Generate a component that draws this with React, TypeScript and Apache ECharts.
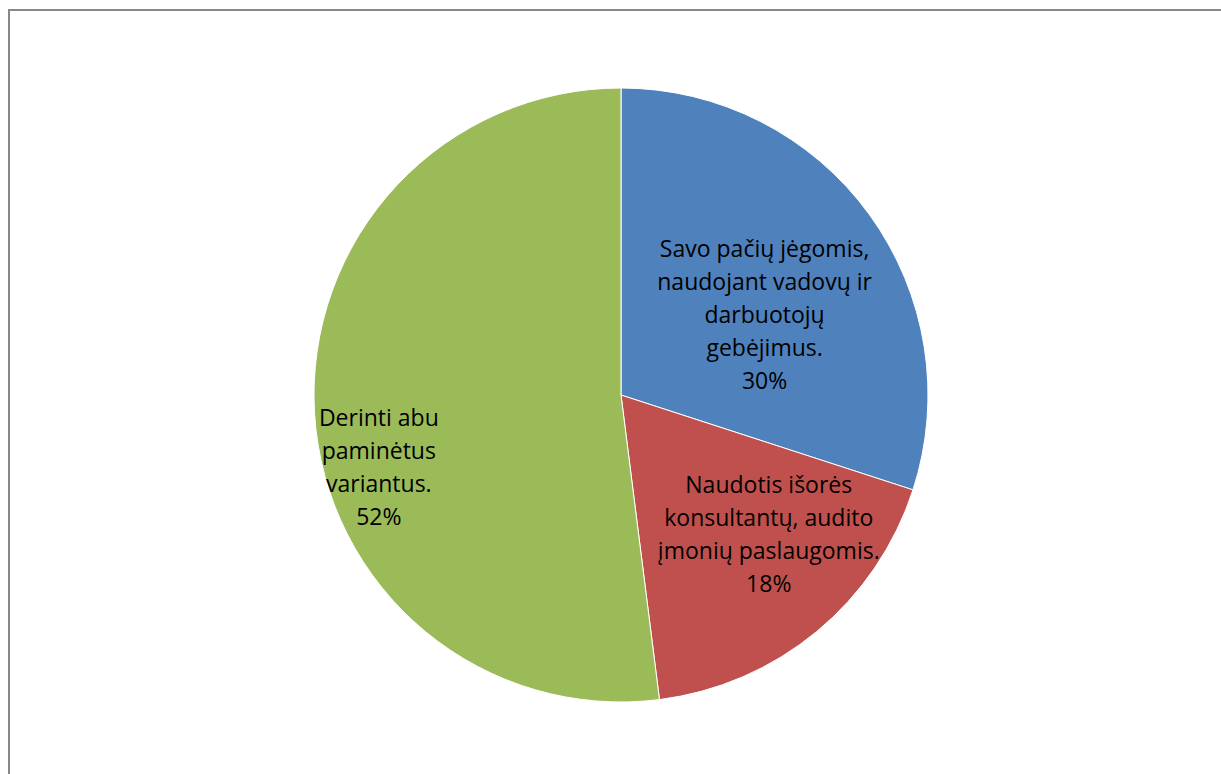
import React, { useEffect, useRef } from "react";
import * as echarts from "echarts";

const categories = [
  "Savo pačių jėgomis,\nnaudojant vadovų ir\ndarbuotojų\ngebėjimus.",
  "Naudotis išorės\nkonsultantų, audito\nįmonių paslaugomis.",
  "Derinti abu\npaminėtus\nvariantus.",
];
const values = [30, 18, 52];
const colors = ["#4F81BD", "#C0504D", "#9BBB59"];
const labelOffsets = [
  [17, 11],
  [48, 18],
  [-86, 62],
];

export default function App() {
  const ref = useRef<HTMLDivElement>(null);
  useEffect(() => {
    if (!ref.current) return;
    const chart = echarts.init(ref.current, null, { renderer: "svg" });
    chart.setOption({
      animation: false,
      backgroundColor: "#ffffff",
      graphic: [
        {
          type: "rect",
          shape: { x: 9, y: 10, width: 1300, height: 900 },
          style: { fill: "none", stroke: "#888888", lineWidth: 2 },
          silent: true,
        },
      ],
      series: [
        {
          type: "pie",
          center: [621, 395],
          radius: 307,
          startAngle: 90,
          clockwise: true,
          label: {
            show: true,
            position: "inside",
            color: "#000000",
            fontFamily: "'Open Sans', Lato, sans-serif",
            fontSize: 23,
            lineHeight: 33,
            align: "center",
            formatter: (p: any) => `${p.name}\n${p.value}%`,
          },
          labelLine: { show: false },
          itemStyle: { borderColor: "#ffffff", borderWidth: 1 },
          emphasis: { disabled: true },
          data: categories.map((name, i) => ({
            name,
            value: values[i],
            itemStyle: { color: colors[i] },
            label: { offset: labelOffsets[i] },
          })),
        },
      ],
    });
    return () => chart.dispose();
  }, []);
  return (
    <div
      ref={ref}
      style={{ position: "fixed", left: 0, top: 0, width: 1221, height: 774 }}
    />
  );
}
